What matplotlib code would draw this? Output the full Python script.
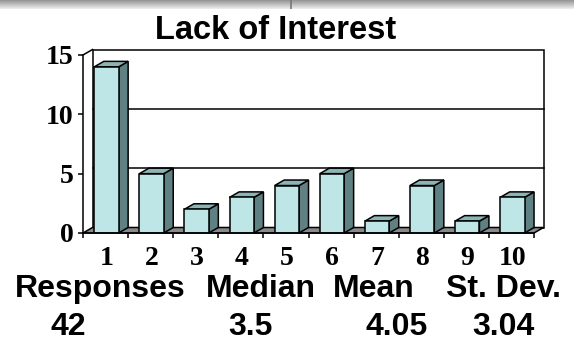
import numpy as np
import matplotlib.pyplot as plt
from matplotlib.patches import Polygon

# data
categories = [str(i) for i in range(1, 11)]
counts = [14, 5, 2, 3, 4, 5, 1, 4, 1, 3]
y_ticks = [0, 5, 10, 15]
stat_names = ["Responses", "Median", "Mean", "St. Dev."]
stat_values = ["42", "3.5", "4.05", "3.04"]

# layout (pixels)
W, H = 574, 346
name_x = [100, 261, 374, 504]
value_x = [68, 250, 397, 503]

front_col = "#bfe6e6"
top_col = "#8cb4b5"
side_col = "#5f8183"
floor_col = "#8a8a8a"
lw = 1.1

fig = plt.figure(figsize=(W / 100, H / 100), dpi=100)

# gray strip at the very top of the slide
strip = fig.add_axes([0, 1 - 9 / H, 1, 9 / H])
grad = np.linspace(0.58, 0.93, 20).reshape(-1, 1)
strip.imshow(grad, cmap="gray", vmin=0, vmax=1, aspect="auto", extent=[0, 1, 0, 1])
strip.axvline(291 / W, color="#777777", lw=1.2)
strip.set_xlim(0, 1)
strip.axis("off")

# main axes: front plane from x=83..534, y=233..55 px
ax = fig.add_axes([83 / W, (H - 233) / H, 451 / W, 178 / H])
ax.set_xlim(0, len(counts))
ax.set_ylim(0, 15)
ax.set_facecolor("none")

# depth offset of the 3D look in data units
DX = 9.5 / 45.1
DY = 5.5 / (178 / 15)

n = len(counts)
# back wall
ax.add_patch(Polygon([(DX, DY), (n + DX, DY), (n + DX, 15 + DY), (DX, 15 + DY)],
                     closed=True, facecolor="white", edgecolor="black", lw=lw,
                     clip_on=False, zorder=1))
for v in y_ticks[1:-1]:
    ax.plot([DX, n + DX], [v + DY, v + DY], color="black", lw=lw, clip_on=False, zorder=1)
# left wall top edge
ax.plot([0, DX], [15, 15 + DY], color="black", lw=lw, clip_on=False, zorder=1)
# floor
ax.add_patch(Polygon([(0, 0), (n, 0), (n + DX, DY), (DX, DY)], closed=True,
                     facecolor=floor_col, edgecolor="black", lw=lw,
                     clip_on=False, zorder=2))

# bars
off, bw = 0.25, 0.54
x_left = np.arange(n) + off
ax.bar(x_left, counts, width=bw, align="edge", color=front_col,
       edgecolor="black", lw=lw, zorder=4)
for x, h in zip(x_left, counts):
    ax.add_patch(Polygon([(x + bw, 0), (x + bw + DX, DY), (x + bw + DX, h + DY), (x + bw, h)],
                         closed=True, facecolor=side_col, edgecolor="black", lw=lw,
                         clip_on=False, zorder=3))
    ax.add_patch(Polygon([(x, h), (x + bw, h), (x + bw + DX, h + DY), (x + DX, h + DY)],
                         closed=True, facecolor=top_col, edgecolor="black", lw=lw,
                         clip_on=False, zorder=3))

# axes / ticks
for s in ["top", "right"]:
    ax.spines[s].set_visible(False)
for s in ["left", "bottom"]:
    ax.spines[s].set_linewidth(lw)
    ax.spines[s].set_zorder(5)

tick_font = dict(family="Liberation Serif", weight="bold", size=20)
ax.set_yticks(y_ticks)
ax.set_yticklabels([str(v) for v in y_ticks], fontdict=tick_font)
ax.tick_params(axis="y", direction="out", length=3.6, width=lw, pad=3.4)

ax.set_xticks(np.arange(n + 1))
ax.set_xticklabels([])
ax.tick_params(axis="x", which="major", direction="out", length=3.6, width=lw)
ax.set_xticks(np.arange(n) + 0.52, minor=True)
ax.set_xticklabels(categories, minor=True, fontdict=tick_font)
ax.tick_params(axis="x", which="minor", length=0, pad=9.5)

# title and summary text
txt = dict(family="Liberation Sans", weight="bold", color="black")
fig.text(276 / W, 1 - 39 / H, "Lack of Interest", ha="center", va="baseline",
         fontsize=23.5, **txt)
for name, xn in zip(stat_names, name_x):
    fig.text(xn / W, 1 - 297 / H, name, ha="center", va="baseline", fontsize=23, **txt)
for val, xv in zip(stat_values, value_x):
    fig.text(xv / W, 1 - 335 / H, val, ha="center", va="baseline", fontsize=23, **txt)

fig.savefig("out.png", dpi=100)
